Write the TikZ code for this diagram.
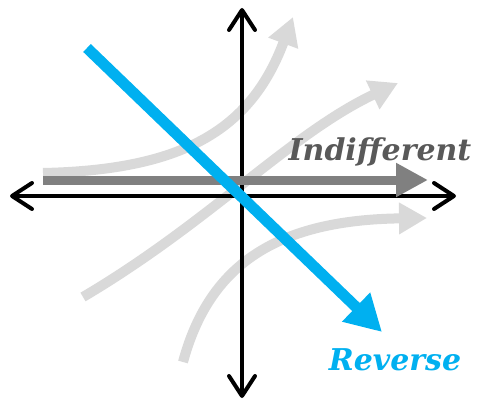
\documentclass[tikz,border=0pt]{standalone}
\usepackage{fontspec}
\newfontfamily\lblfont{DejaVu Serif}
\usepackage{tikz}
\usetikzlibrary{arrows.meta, positioning}
\definecolor{revBlue}{RGB}{0,176,240}
\definecolor{indGray}{RGB}{128,128,128}
\definecolor{fadeGray}{RGB}{217,217,217}
\definecolor{lblGray}{RGB}{89,89,89}
\tikzset{
    axisline/.style={line width=4pt, line cap=round,
                     {Straight Barb[length=20pt, width=26pt, line cap=round, line join=round]}-{Straight Barb[length=20pt, width=26pt, line cap=round, line join=round]}},
    fade/.style={line width=10pt, draw=fadeGray, -{Triangle[length=28pt, width=30pt]}},
    trend/.style={line width=#1, -{Triangle[length=33pt, width=34pt]}},
    trend/.default=10pt,
    lbl/.style={font=\lblfont\fontsize{30}{32}\selectfont\bfseries\itshape, inner sep=0pt, anchor=base}
}

\begin{document}
\begin{tikzpicture}[x=1pt, y=1pt]
    \useasboundingbox (0,0) rectangle (478,402);

    % axis ends
    \coordinate (west) at (10,206);
    \coordinate (east) at (456,206);
    \coordinate (south) at (242,4);
    \coordinate (north) at (242,394);

    % faded curves
    \coordinate (c1a) at (43,229);  \coordinate (c1b) at (293,385);
    \coordinate (c2a) at (83,105);  \coordinate (c2b) at (398,319);
    \coordinate (c3a) at (183,40);  \coordinate (c3b) at (427,184);
    \draw[fade] (c1a) .. controls (180,232) and (250,270) .. (c1b);
    \draw[fade] (c2a) .. controls (210,180) and (290,268) .. (c2b);
    \draw[fade] (c3a) .. controls (210,140) and (280,182) .. (c3b);

    \draw[axisline] (west) -- (east);
    \draw[axisline] (south) -- (north);

    % indifferent
    \coordinate (inda) at (43,222);
    \coordinate (indb) at (428,222);
    \draw[trend=9pt, draw=indGray, -{Triangle[length=32pt, width=32pt]}] (inda) -- (indb);
    \node[lbl, text=lblGray] (indiff) at (380,242) {Indifferent};

    % reverse
    \coordinate (reva) at (87,354);
    \coordinate (revb) at (382,70);
    \draw[trend=11pt, draw=revBlue, -{Triangle[length=36pt, width=38pt]}] (reva) -- (revb);
    \node[lbl, text=revBlue] (rev) at (395,32) {Reverse};
\end{tikzpicture}
\end{document}
